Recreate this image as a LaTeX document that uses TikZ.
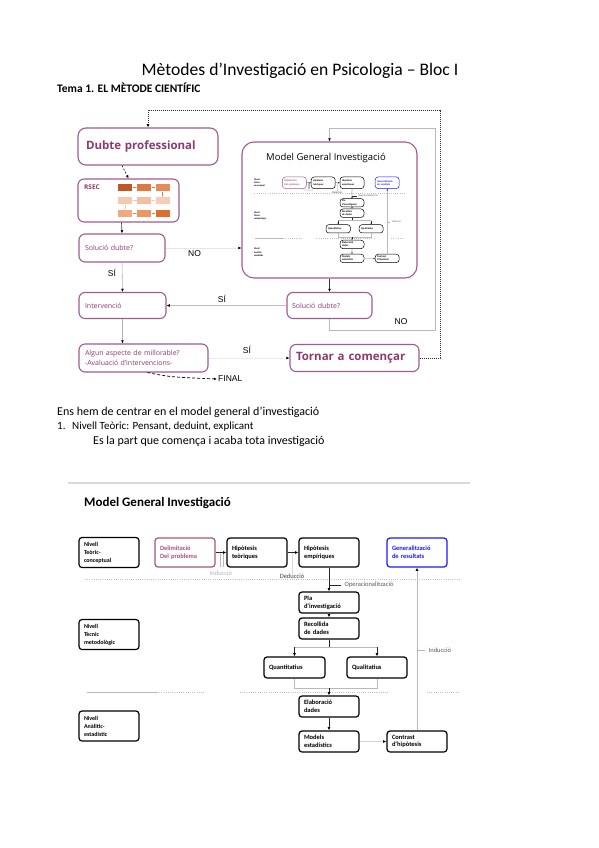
\documentclass[tikz,border=0pt]{standalone}
\usepackage{fontspec}
\setmainfont{Carlito}
\newfontfamily\osans{Open Sans}
\newfontfamily\arialf{Liberation Sans}
\usetikzlibrary{arrows.meta}
\definecolor{pborder}{RGB}{160,92,142}
\definecolor{ptext}{RGB}{140,58,112}
\definecolor{delimc}{RGB}{165,85,125}
\definecolor{genblue}{RGB}{25,25,255}
\definecolor{oA}{RGB}{192,86,36}
\definecolor{oB}{RGB}{222,122,64}
\definecolor{oC}{RGB}{230,140,90}
\definecolor{oD}{RGB}{246,200,176}
\definecolor{oE}{RGB}{244,190,165}
\definecolor{oF}{RGB}{247,205,185}
\definecolor{oG}{RGB}{240,170,130}
\definecolor{oH}{RGB}{236,150,100}
\definecolor{oI}{RGB}{220,110,50}

\newcommand\drawmodelgen[1]{%
  \draw[mgsep] (85,579) -- (460,579);
  \draw[mggray, line width=0.6pt] (87,692) -- (157,692);
  \draw[mgsep] (157,692) -- (205,692);
  \draw[mgsep] (240,692) -- (388,692);
  \draw[mgsep] (427,692) -- (458,692);
  \node[nivbox] (#1n1) at (109,552.5) {Nivell\\Teòric-\\conceptual};
  \node[nivbox] (#1n2) at (109,634.5) {Nivell\\Tècnic\\metodològic};
  \node[nivbox] (#1n3) at (109,726) {Nivell\\Anàlitic-\\estadístic};
  \draw[mggray] (220,552) -- (220,567);
  \draw[mggray] (223,552) -- (223,567);
  \draw[draw=gray!30, line width=0.7pt] (292,552) -- (292,575);
  \node[mgbox, draw=delimc, text=delimc] (#1del) at (185,552.5) {Delimitació\\Del problema};
  \node[mgbox] (#1hipt) at (257,552.5) {Hipòtesis\\teòriques};
  \node[mgbox] (#1hipe) at (329,552.5) {Hipòtesis\\empíriques};
  \node[mgbox, draw=genblue, text=genblue] (#1gen) at (417,552.5) {Generalització\\de resultats};
  \node[mgsmall] (#1pla) at (329,602.5) {Pla\\d’investigació};
  \node[mgsmall] (#1rec) at (329,628.5) {Recollida\\de dades};
  \node[mgsmall, text width=51pt] (#1quan) at (294.5,667.5) {Quantitatius};
  \node[mgsmall] (#1qual) at (377,667.5) {Qualitatius};
  \node[mgsmall] (#1elab) at (329,706.5) {Elaboració\\dades};
  \node[mgsmall] (#1mod) at (329,741.5) {Models\\estadístics};
  \node[mgsmall] (#1con) at (417,741.5) {Contrast\\d’hipòtesis};
  \draw[mgline,mgarr] (#1del) -- (#1hipt);
  \draw[mgline,mgarr] (#1hipt) -- (#1hipe);
  \node[mglbl, text=gray!60] (#1lind) at (221,573) {Inducció};
  \node[mglbl, text=black!75] (#1lded) at (292,576) {Deducció};
  \draw[mgline,mgarr] (#1hipe) -- (#1pla);
  \coordinate (#1opt) at (341,585);
  \draw[mgline] (#1hipe.south |- #1opt) -- (#1opt);
  \node[mglbl, anchor=west] (#1lop) at (344,585) {Operacionalització};
  \draw[mgline,mgarr] (#1pla) -- (#1rec);
  \coordinate (#1sa) at (329,647);
  \draw[mgline] (#1rec.south) -- (#1sa);
  \draw[mggray] (#1sa -| #1quan.north) -- (#1sa -| #1qual.north);
  \draw[mgline,mgarr] (#1sa -| #1quan.north) -- (#1quan.north);
  \draw[mgline,mgarr] (#1sa -| #1qual.north) -- (#1qual.north);
  \coordinate (#1sb) at (329,688);
  \draw[mggray] (#1quan.south) -- (#1sb -| #1quan.south) -- (#1sb -| #1qual.south) -- (#1qual.south);
  \draw[mgline,mgarr] (#1sb) -- (#1elab.north);
  \draw[mgline,mgarr] (#1elab) -- (#1mod);
  \draw[draw=gray!35, line width=0.7pt, mgarr] (#1mod) -- (#1con);
  \draw[mggray, mgarr] (#1con.north) -- (#1gen.south);
  \coordinate (#1it) at (425,650);
  \draw[mggray] (#1con.north |- #1it) -- (#1it);
  \node[mglbl, anchor=west] (#1lin) at (428,650) {Inducció};
}

\begin{document}
\begin{tikzpicture}[x=1pt,y=-1pt,
  pbox/.style={draw=pborder, line width=1.1pt, rounded corners=6pt, fill=white, align=left, text=ptext, inner ysep=0pt, font=\osans\fontsize{7}{9.5}\selectfont},
  lbl/.style={font=\arialf\fontsize{8.5}{10}\selectfont, inner sep=1pt},
  tip/.style={-{Latex[length=3.2pt,width=2.8pt,color=black]}},
  rcell/.style={minimum width=14pt, minimum height=7pt, inner sep=0pt, draw=none},
  rarr/.style={draw=oB, line width=0.5pt, -{Latex[length=1.5pt,width=1.5pt]}, shorten <=0.3pt},
  mgbox/.style={draw=black, line width=1.2pt, rounded corners=3pt, fill=white, align=left, inner xsep=5pt, inner ysep=1pt, text width=50pt, minimum height=29pt, font=\fontsize{6.5}{7.6}\selectfont\bfseries},
  mgsmall/.style={mgbox, minimum height=21pt},
  nivbox/.style={mgbox, font=\fontsize{6}{8}\selectfont\bfseries, minimum height=30pt},
  mgline/.style={draw=black!85, line width=0.7pt},
  mggray/.style={draw=gray!55, line width=0.7pt},
  mgarr/.style={-{Latex[length=3.2pt,width=2.8pt,color=black]}},
  mgsep/.style={draw=gray!50, line width=0.6pt, dash pattern=on 1pt off 1.2pt},
  mglbl/.style={font=\fontsize{6.5}{7.5}\selectfont, text=gray!70!black, inner sep=0.5pt},
  bodytext/.style={anchor=base west, inner sep=0pt, font=\fontsize{12}{14}\selectfont}
]
\useasboundingbox (0,0) rectangle (599,848);
\fill[white] (0,0) rectangle (599,848);

% header texts
\node[anchor=base, inner sep=0pt, font=\fontsize{17.6}{21}\selectfont] (title) at (300,76) {Mètodes d’Investigació en Psicologia – Bloc I};
\node[anchor=base west, inner sep=0pt, font=\fontsize{11.5}{13}\selectfont\bfseries] (tema) at (57,93) {Tema 1. EL MÈTODE CIENTÍFIC};

% ---------- top flow diagram ----------
\node[pbox, text width=124pt, inner xsep=8pt, minimum height=37pt, rounded corners=8pt, font=\osans\bfseries\fontsize{11.5}{13}\selectfont] (dubte) at (148,146.5) {Dubte professional};
\node[pbox, minimum width=101pt, minimum height=43pt] (rsec) at (128.5,200.5) {};
\node[anchor=west, inner sep=0pt, text=ptext, font=\osans\bfseries\fontsize{6.5}{7}\selectfont] (rseclbl) at (84,187) {RSEC};
\node[rcell, fill=oA] (r11) at (125,187.5) {};
\node[rcell, fill=oB] (r12) at (144,187.5) {};
\node[rcell, fill=oC] (r13) at (162.5,187.5) {};
\node[rcell, fill=oD] (r21) at (125,200.5) {};
\node[rcell, fill=oE] (r22) at (144,200.5) {};
\node[rcell, fill=oF] (r23) at (162.5,200.5) {};
\node[rcell, fill=oG] (r31) at (125,213.5) {};
\node[rcell, fill=oH] (r32) at (144,213.5) {};
\node[rcell, fill=oI] (r33) at (162.5,213.5) {};
\draw[rarr] (r11) -- (r12);
\draw[rarr] (r12) -- (r13);
\draw[rarr] (r13) -- (r23);
\draw[rarr, draw=oD] (r23) -- (r22);
\draw[rarr, draw=oD] (r22) -- (r21);
\draw[rarr, draw=oD] (r21) -- (r31);
\draw[rarr] (r31) -- (r32);
\draw[rarr] (r32) -- (r33);

\node[pbox, text width=74pt, inner xsep=6pt, minimum height=28pt] (sol1) at (122,248) {Solució dubte?};
\node[pbox, text width=75pt, inner xsep=6pt, minimum height=26pt] (interv) at (122.5,305.5) {Intervenció};
\node[pbox, text width=117pt, inner xsep=6pt, minimum height=28pt] (algun) at (143.5,358) {Algun aspecte de millorable?\\-Avaluació d’intervencions-};

\node[pbox, minimum width=175pt, minimum height=136pt, rounded corners=12pt] (model) at (329.5,210) {};
\node[inner sep=0pt, font=\osans\fontsize{9.5}{11}\selectfont] (mtitle) at (326,158) {Model General Investigació};
\begin{scope}[shift={(220.4,-38.2)}, scale=0.4, transform shape,
  mgbox/.append style={line width=0.5pt},
  nivbox/.append style={draw=none, fill=none},
  mgline/.append style={line width=0.35pt},
  mggray/.append style={line width=0.35pt},
  mgsep/.append style={line width=0.35pt},
  mgarr/.style={-{Latex[length=1.6pt,width=1.4pt,color=black]}}]
  \drawmodelgen{s}
\end{scope}

\node[pbox, text width=75pt, inner xsep=5pt, minimum height=26pt] (sol2) at (329.5,305.5) {Solució dubte?};
\node[pbox, text width=117pt, inner xsep=6pt, minimum height=27pt, font=\osans\bfseries\fontsize{11.5}{13}\selectfont] (tornar) at (354.5,358) {Tornar a començar};

% connectors of the top diagram
\coordinate (dotR) at (440,110);
\coordinate (dotL) at (148,110);
\draw[black!80, line width=0.6pt, dash pattern=on 1pt off 1pt, tip] (tornar.east) -- (tornar.east -| dotR) -- (dotR) -- (dotL) -- (dubte.north);
\draw[black, line width=0.6pt, dash pattern=on 2pt off 1.5pt, tip] ([xshift=-26pt]dubte.south) -- (rsec.north);
\draw[black!80, line width=0.6pt, tip] ([xshift=-7pt]rsec.south) -- (sol1.north);
\draw[gray!60, line width=0.6pt, tip] (sol1.south) -- (interv.north);
\draw[gray!20, line width=0.6pt, tip] (sol1.east) -- (sol1.east -| model.west);
\draw[black!80, line width=0.6pt, tip] (model.south) -- (sol2.north);
\draw[gray!50, line width=0.6pt, tip] (sol2.west) -- (interv.east);
\coordinate (lpB) at (435,330);
\coordinate (lpT) at (435,128);
\draw[gray!55, line width=0.6pt, tip] (sol2.south) -- (sol2.south |- lpB) -- (lpB) -- (lpT) -- (lpT -| model.north) -- (model.north);
\draw[gray!60, line width=0.6pt, tip] (interv.south) -- (interv.south |- algun.north);
\draw[gray!15, line width=0.6pt, tip] (algun.east) -- (tornar.west);
\node[lbl, anchor=west] (final) at (217,379) {FINAL};
\draw[black, line width=0.7pt, dash pattern=on 3pt off 2pt, tip] ([xshift=4pt]algun.south) .. controls (170,377) .. (final.west);

\node[lbl] (no1) at (194.5,254) {NO};
\node[lbl] (si1) at (112,273) {SÍ};
\node[lbl] (si2) at (222,299) {SÍ};
\node[lbl] (no2) at (401,322) {NO};
\node[lbl] (si3) at (247,350) {SÍ};

% ---------- body text ----------
\node[bodytext] (t1) at (57,415.5) {Ens hem de centrar en el model general d’investigació};
\node[bodytext, font=\fontsize{11}{13}\selectfont] (t2a) at (57,429.5) {1.};
\node[bodytext, font=\fontsize{11}{13}\selectfont] (t2) at (72,429.5) {Nivell Teòric: Pensant, deduint, explicant};
\node[bodytext] (t3) at (93,444.5) {Es la part que comença i acaba tota investigació};

% ---------- bottom model ----------
\draw[gray!30, line width=1.6pt] (68,483) -- (470,483);
\node[anchor=base west, inner sep=0pt, font=\fontsize{13}{15}\selectfont\bfseries] (mgtitle) at (84,506) {Model General Investigació};
\drawmodelgen{b}
\end{tikzpicture}
\end{document}
